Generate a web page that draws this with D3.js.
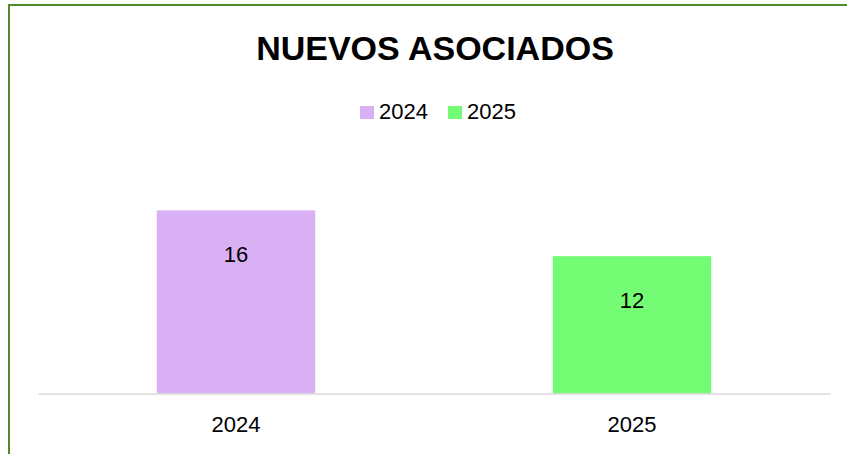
<!DOCTYPE html>
<html>
<head>
<meta charset="utf-8">
<script src="https://cdn.jsdelivr.net/npm/d3@7.9.0/dist/d3.min.js"></script>
<style>
  html, body { margin: 0; padding: 0; background: #fff; overflow: hidden; }
  svg { display: block; font-family: "Liberation Sans", Arial, sans-serif; }
</style>
</head>
<body>
<svg id="chart" width="847" height="454"></svg>
<script>
const title = 'NUEVOS ASOCIADOS';
const years = ['2024', '2025'];
const values = [16, 12];
const colors = ['#dab0f5', '#74fc74'];

const svg = d3.select('#chart');

// outer frame (runs off the right / bottom of the picture)
svg.append('rect')
  .attr('x', 9).attr('y', 5)
  .attr('width', 900).attr('height', 500)
  .attr('fill', '#fff')
  .attr('stroke', '#4f8a2b')
  .attr('stroke-width', 2);

const x = d3.scaleBand()
  .domain(years)
  .range([38, 830])
  .paddingInner(0.6)
  .paddingOuter(0.3);

const y = d3.scaleLinear()
  .domain([0, 18])
  .range([393.5, 187.5]);

const color = d3.scaleOrdinal().domain(years).range(colors);

svg.append('text')
  .attr('x', 435).attr('y', 60)
  .attr('text-anchor', 'middle')
  .attr('font-size', 34)
  .attr('font-weight', 'bold')
  .attr('fill', '#000')
  .text(title);

// legend
const legendX = [360, 448];
const legend = svg.append('g');
years.forEach((yr, i) => {
  legend.append('rect')
    .attr('x', legendX[i]).attr('y', 106)
    .attr('width', 14).attr('height', 13)
    .attr('fill', color(yr));
  legend.append('text')
    .attr('x', legendX[i] + 19).attr('y', 119)
    .attr('font-size', 22)
    .attr('fill', '#000')
    .text(yr);
});

const data = years.map((yr, i) => ({ year: yr, value: values[i] }));

svg.selectAll('rect.bar')
  .data(data)
  .join('rect')
  .attr('class', 'bar')
  .attr('x', d => x(d.year))
  .attr('y', d => y(d.value))
  .attr('width', x.bandwidth())
  .attr('height', d => y(0) - y(d.value))
  .attr('fill', d => color(d.year));

svg.selectAll('text.val')
  .data(data)
  .join('text')
  .attr('class', 'val')
  .attr('x', d => x(d.year) + x.bandwidth() / 2)
  .attr('y', d => y(d.value) + 52)
  .attr('text-anchor', 'middle')
  .attr('font-size', 22)
  .attr('fill', '#000')
  .text(d => d.value);

const axis = svg.append('g')
  .attr('transform', `translate(0,${y(0)})`)
  .call(d3.axisBottom(x).tickSize(0).tickPadding(23));
axis.select('.domain').attr('stroke', '#d9d9d9').attr('stroke-width', 1.5);
axis.selectAll('text')
  .attr('font-size', 22)
  .attr('font-family', '"Liberation Sans", Arial, sans-serif')
  .attr('fill', '#000')
  .attr('dy', '0.71em');
</script>
</body>
</html>
